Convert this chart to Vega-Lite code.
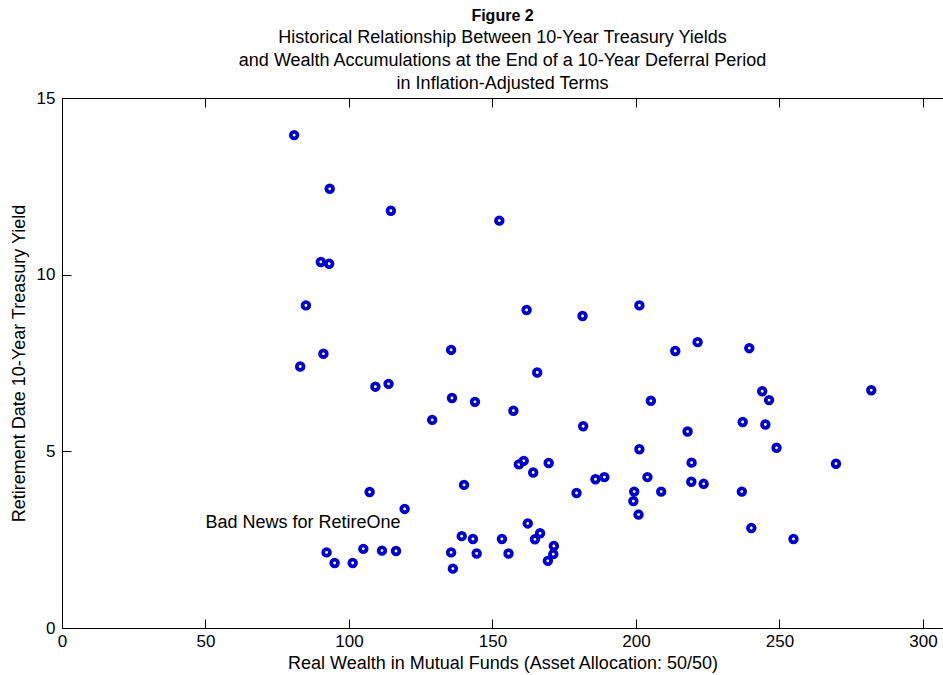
{
  "$schema": "https://vega.github.io/schema/vega-lite/v6.json",
  "autosize": "none",
  "width": 881,
  "height": 530,
  "padding": {"left": 62, "top": 98, "right": 0, "bottom": 47},
  "background": "white",
  "title": {
    "text": "Figure 2",
    "subtitle": ["Historical Relationship Between 10-Year Treasury Yields", "and Wealth Accumulations at the End of a 10-Year Deferral Period", "in Inflation-Adjusted Terms"],
    "anchor": "middle",
    "font": "Liberation Sans",
    "fontSize": 16,
    "fontWeight": "bold",
    "color": "black",
    "subtitleFont": "Liberation Sans",
    "subtitleFontSize": 18,
    "subtitleColor": "black",
    "subtitleLineHeight": 23,
    "subtitlePadding": 5,
    "offset": -4
  },
  "config": {
    "view": {"stroke": null},
    "axis": {
      "domainColor": "black",
      "tickColor": "black",
      "labelColor": "black",
      "labelFont": "Liberation Sans",
      "labelFontSize": 17,
      "titleFont": "Liberation Sans",
      "titleFontSize": 18,
      "titleFontWeight": "normal",
      "titleColor": "black",
      "grid": false,
      "tickSize": -9
    }
  },
  "resolve": {"axis": {"x": "independent", "y": "independent"}},
  "layer": [
    {
      "data": {"values": [
        {"wealth": 80.9, "yield": 13.95}, {"wealth": 93.3, "yield": 12.43}, {"wealth": 90.2, "yield": 10.36}, {"wealth": 93.1, "yield": 10.31},
        {"wealth": 85.0, "yield": 9.13}, {"wealth": 91.1, "yield": 7.76}, {"wealth": 83.0, "yield": 7.40}, {"wealth": 92.2, "yield": 2.14},
        {"wealth": 95.0, "yield": 1.84}, {"wealth": 101.3, "yield": 1.84}, {"wealth": 114.6, "yield": 11.81}, {"wealth": 152.4, "yield": 11.53},
        {"wealth": 161.9, "yield": 9.0}, {"wealth": 181.4, "yield": 8.83}, {"wealth": 201.2, "yield": 9.13}, {"wealth": 135.6, "yield": 7.87},
        {"wealth": 165.6, "yield": 7.23}, {"wealth": 109.2, "yield": 6.83}, {"wealth": 113.8, "yield": 6.91}, {"wealth": 135.9, "yield": 6.51},
        {"wealth": 143.9, "yield": 6.40}, {"wealth": 157.3, "yield": 6.15}, {"wealth": 129.0, "yield": 5.89}, {"wealth": 181.6, "yield": 5.71},
        {"wealth": 205.2, "yield": 6.43}, {"wealth": 201.2, "yield": 5.06}, {"wealth": 159.2, "yield": 4.63}, {"wealth": 160.9, "yield": 4.73},
        {"wealth": 169.6, "yield": 4.67}, {"wealth": 164.2, "yield": 4.40}, {"wealth": 204.0, "yield": 4.27}, {"wealth": 140.1, "yield": 4.05},
        {"wealth": 185.9, "yield": 4.21}, {"wealth": 189.0, "yield": 4.27}, {"wealth": 179.3, "yield": 3.82}, {"wealth": 107.2, "yield": 3.85},
        {"wealth": 119.4, "yield": 3.37}, {"wealth": 199.4, "yield": 3.86}, {"wealth": 199.1, "yield": 3.59}, {"wealth": 200.9, "yield": 3.21},
        {"wealth": 162.3, "yield": 2.96}, {"wealth": 139.3, "yield": 2.60}, {"wealth": 143.2, "yield": 2.52}, {"wealth": 153.3, "yield": 2.52},
        {"wealth": 166.6, "yield": 2.68}, {"wealth": 164.8, "yield": 2.51}, {"wealth": 171.4, "yield": 2.32}, {"wealth": 171.2, "yield": 2.09},
        {"wealth": 169.3, "yield": 1.90}, {"wealth": 105.0, "yield": 2.24}, {"wealth": 111.5, "yield": 2.19}, {"wealth": 116.4, "yield": 2.18},
        {"wealth": 135.6, "yield": 2.14}, {"wealth": 144.5, "yield": 2.11}, {"wealth": 155.6, "yield": 2.11}, {"wealth": 136.2, "yield": 1.68},
        {"wealth": 213.7, "yield": 7.84}, {"wealth": 221.5, "yield": 8.09}, {"wealth": 239.5, "yield": 7.92}, {"wealth": 244.0, "yield": 6.70},
        {"wealth": 246.4, "yield": 6.45}, {"wealth": 282.0, "yield": 6.73}, {"wealth": 237.2, "yield": 5.83}, {"wealth": 245.1, "yield": 5.76},
        {"wealth": 218.0, "yield": 5.56}, {"wealth": 249.0, "yield": 5.10}, {"wealth": 269.7, "yield": 4.65}, {"wealth": 219.4, "yield": 4.68},
        {"wealth": 219.3, "yield": 4.14}, {"wealth": 223.6, "yield": 4.08}, {"wealth": 208.8, "yield": 3.86}, {"wealth": 236.9, "yield": 3.86},
        {"wealth": 240.2, "yield": 2.83}, {"wealth": 254.9, "yield": 2.52}
      ]},
      "mark": {"type": "point", "shape": "circle", "filled": false, "stroke": "#0000c8", "strokeWidth": 3.8, "size": 44, "opacity": 1},
      "encoding": {
        "x": {"field": "wealth", "type": "quantitative", "scale": {"domain": [0, 307], "nice": false, "zero": false},
          "axis": {"title": "Real Wealth in Mutual Funds (Asset Allocation: 50/50)", "values": [0, 50, 100, 150, 200, 250, 300], "labelPadding": 14, "titlePadding": 5, "labelFlush": false}},
        "y": {"field": "yield", "type": "quantitative", "scale": {"domain": [0, 15], "nice": false},
          "axis": {"title": "Retirement Date 10-Year Treasury Yield", "values": [0, 5, 10, 15], "labelPadding": 16, "titlePadding": 8, "labelFlush": false}}
      }
    },
    {
      "data": {"values": [{"wealth": 50, "yield": 2.97, "label": "Bad News for RetireOne"}]},
      "mark": {"type": "text", "align": "left", "baseline": "middle", "font": "Liberation Sans", "fontSize": 18, "color": "black"},
      "encoding": {
        "x": {"field": "wealth", "type": "quantitative", "axis": {"orient": "top", "title": null, "labels": false, "values": [0, 50, 100, 150, 200, 250, 300]}},
        "y": {"field": "yield", "type": "quantitative", "axis": null},
        "text": {"field": "label"}
      }
    }
  ]
}
